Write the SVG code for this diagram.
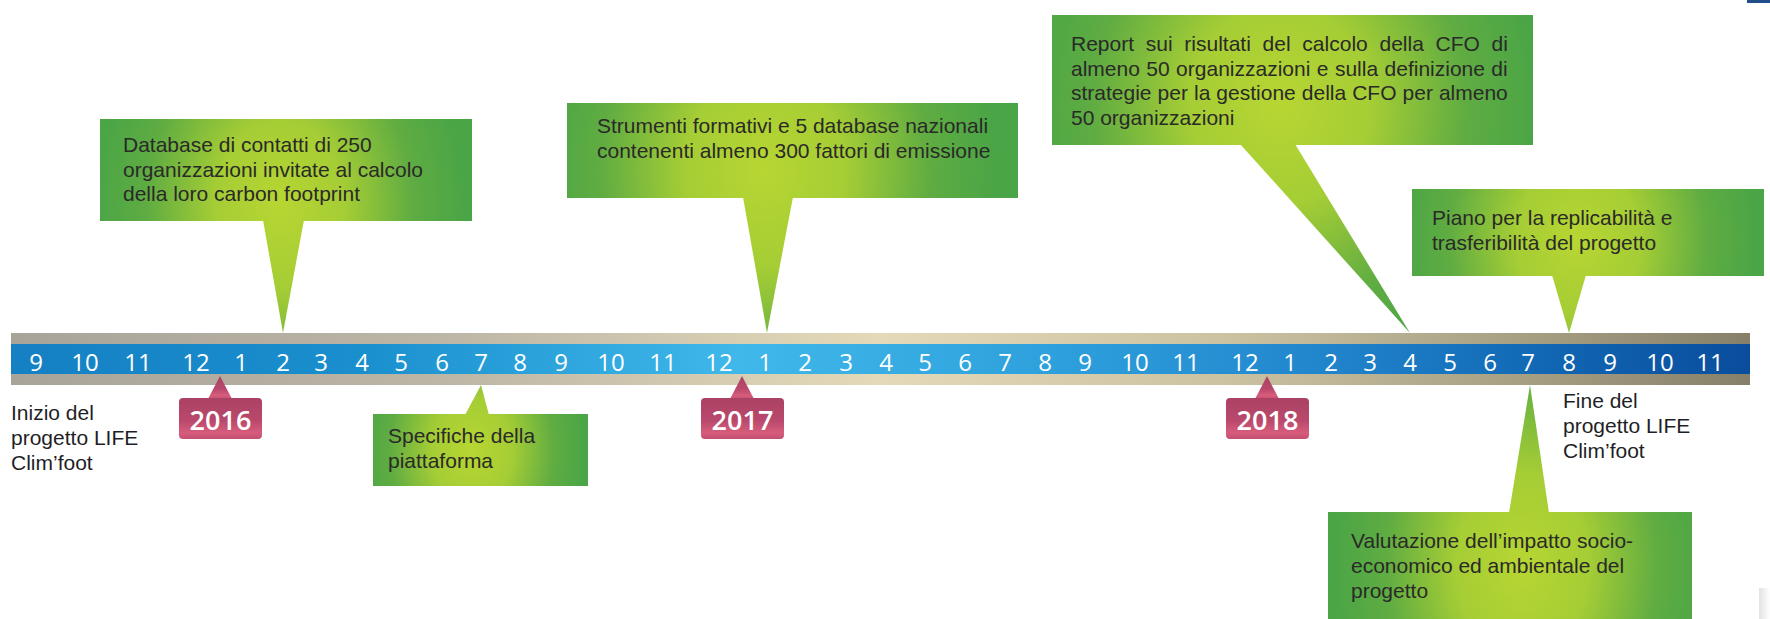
<svg xmlns="http://www.w3.org/2000/svg" width="1770" height="619" viewBox="0 0 1770 619">
<style>
  .num { font-family: "Open Sans", "DejaVu Sans", sans-serif; font-size: 24px; fill: #ffffff; text-anchor: middle; }
  .year { font-family: "Open Sans", "DejaVu Sans", sans-serif; font-size: 27px; font-weight: 600; fill: #ffffff; text-anchor: middle; }
  .txt { font-family: "Liberation Sans", Arial, sans-serif; font-size: 21px; fill: #2a2a28; }
  .lbl { font-family: "Liberation Sans", Arial, sans-serif; font-size: 21px; fill: #1f1f26; }
  .tag { fill: url(#tagGrad); }
</style>
<defs>
  <linearGradient id="grayBar" x1="0" y1="0" x2="1" y2="0">
    <stop offset="0" stop-color="#a9a49a"/>
    <stop offset="0.25" stop-color="#bcb6a6"/>
    <stop offset="0.5" stop-color="#e4dab9"/>
    <stop offset="0.7" stop-color="#cbc2a2"/>
    <stop offset="0.88" stop-color="#a49d81"/>
    <stop offset="1" stop-color="#86806a"/>
  </linearGradient>
  <linearGradient id="blueBar" x1="0" y1="0" x2="1" y2="0">
    <stop offset="0" stop-color="#1580c3"/>
    <stop offset="0.2" stop-color="#1a8fce"/>
    <stop offset="0.42" stop-color="#40b8ea"/>
    <stop offset="0.6" stop-color="#2ea0dc"/>
    <stop offset="0.75" stop-color="#2286cd"/>
    <stop offset="0.9" stop-color="#0f63b0"/>
    <stop offset="1" stop-color="#0a4d9d"/>
  </linearGradient>
  <linearGradient id="tagGrad" x1="0" y1="0" x2="0" y2="1">
    <stop offset="0" stop-color="#ab4263"/>
    <stop offset="0.55" stop-color="#b9496c"/>
    <stop offset="0.85" stop-color="#d75c7b"/>
    <stop offset="1" stop-color="#c24f70"/>
  </linearGradient>
  <radialGradient id="glow" gradientUnits="userSpaceOnUse" cx="0" cy="0" r="1">
    <stop offset="0" stop-color="#b7d632"/>
    <stop offset="0.35" stop-color="#a5cd35"/>
    <stop offset="0.72" stop-color="#5fac42"/>
    <stop offset="1" stop-color="#4aa546"/>
  </radialGradient>
  <radialGradient id="g1" href="#glow" cx="0" cy="0" r="185" gradientTransform="translate(280 205) scale(1 1.3)"/>
  <radialGradient id="g2" href="#glow" cx="0" cy="0" r="230" gradientTransform="translate(765 170) scale(1 1.2)"/>
  <radialGradient id="g3" href="#glow" cx="0" cy="0" r="260" gradientTransform="translate(1280 105) scale(1 1.1)"/>
  <radialGradient id="g4" href="#glow" cx="0" cy="0" r="180" gradientTransform="translate(1578 240) scale(1 1.2)"/>
  <radialGradient id="g5" href="#glow" cx="0" cy="0" r="190" gradientTransform="translate(1522 565) scale(1 1.4)"/>
  <radialGradient id="g6" href="#glow" cx="0" cy="0" r="115" gradientTransform="translate(472 450) scale(1 1.3)"/>
  <linearGradient id="shade" x1="0" y1="0" x2="1" y2="0">
    <stop offset="0" stop-color="#e2e2e2"/>
    <stop offset="1" stop-color="#ffffff"/>
  </linearGradient>
</defs>

<rect x="0" y="0" width="1770" height="619" fill="#ffffff"/>
<rect x="1747" y="0" width="23" height="3" fill="#1f4e8a"/>
<rect x="1759" y="588" width="11" height="31" fill="url(#shade)"/>

<g id="timeline">
  <rect x="11" y="333" width="1739" height="52" fill="url(#grayBar)"/>
  <rect x="11" y="344" width="1739" height="30" fill="url(#blueBar)"/>
  <g id="months">
    <text class="num" x="36" y="371">9</text>
    <text class="num" x="85" y="371">10</text>
    <text class="num" x="138" y="371">11</text>
    <text class="num" x="196" y="371">12</text>
    <text class="num" x="241" y="371">1</text>
    <text class="num" x="283" y="371">2</text>
    <text class="num" x="321" y="371">3</text>
    <text class="num" x="362" y="371">4</text>
    <text class="num" x="401" y="371">5</text>
    <text class="num" x="442" y="371">6</text>
    <text class="num" x="481" y="371">7</text>
    <text class="num" x="520" y="371">8</text>
    <text class="num" x="561" y="371">9</text>
    <text class="num" x="611" y="371">10</text>
    <text class="num" x="663" y="371">11</text>
    <text class="num" x="719" y="371">12</text>
    <text class="num" x="765" y="371">1</text>
    <text class="num" x="805" y="371">2</text>
    <text class="num" x="846" y="371">3</text>
    <text class="num" x="886" y="371">4</text>
    <text class="num" x="925" y="371">5</text>
    <text class="num" x="965" y="371">6</text>
    <text class="num" x="1005" y="371">7</text>
    <text class="num" x="1045" y="371">8</text>
    <text class="num" x="1085" y="371">9</text>
    <text class="num" x="1135" y="371">10</text>
    <text class="num" x="1186" y="371">11</text>
    <text class="num" x="1245" y="371">12</text>
    <text class="num" x="1290" y="371">1</text>
    <text class="num" x="1331" y="371">2</text>
    <text class="num" x="1370" y="371">3</text>
    <text class="num" x="1410" y="371">4</text>
    <text class="num" x="1450" y="371">5</text>
    <text class="num" x="1490" y="371">6</text>
    <text class="num" x="1528" y="371">7</text>
    <text class="num" x="1569" y="371">8</text>
    <text class="num" x="1610" y="371">9</text>
    <text class="num" x="1660" y="371">10</text>
    <text class="num" x="1710" y="371">11</text>
  </g>
</g>

<g id="connectors">
  <polygon points="263,220 304,220 283,333" fill="url(#g1)"/>
  <polygon points="743,197 793,197 767,333" fill="url(#g2)"/>
  <polygon points="1240,144 1295,144 1410,333" fill="url(#g3)"/>
  <polygon points="1552,275 1586,275 1569,333" fill="url(#g4)"/>
  <polygon points="1509,513 1549,513 1530,385" fill="url(#g5)"/>
  <polygon points="465,415 489,415 481,385" fill="url(#g6)"/>
  <polygon class="tag" points="208,399 220,376 232,399"/>
  <polygon class="tag" points="730,399 742,376 754,399"/>
  <polygon class="tag" points="1255,399 1267,376 1279,399"/>
</g>

<g id="year-2016">
  <rect class="tag" x="179" y="398" width="83" height="41" rx="4"/>
  <text class="year" x="220.5" y="430">2016</text>
</g>
<g id="year-2017">
  <rect class="tag" x="701" y="398" width="83" height="41" rx="4"/>
  <text class="year" x="742.5" y="430">2017</text>
</g>
<g id="year-2018">
  <rect class="tag" x="1226" y="398" width="83" height="41" rx="4"/>
  <text class="year" x="1267.5" y="430">2018</text>
</g>

<g id="start-label">
  <text class="lbl" x="11" y="420">Inizio del</text>
  <text class="lbl" x="11" y="445">progetto LIFE</text>
  <text class="lbl" x="11" y="470">Clim’foot</text>
</g>
<g id="end-label">
  <text class="lbl" x="1563" y="408">Fine del</text>
  <text class="lbl" x="1563" y="433">progetto LIFE</text>
  <text class="lbl" x="1563" y="458">Clim’foot</text>
</g>

<g id="callout-database">
  <rect x="100" y="119" width="372" height="102" fill="url(#g1)"/>
  <text class="txt" x="123" y="152">Database di contatti di 250</text>
  <text class="txt" x="123" y="176.5">organizzazioni invitate al calcolo</text>
  <text class="txt" x="123" y="201">della loro carbon footprint</text>
</g>

<g id="callout-strumenti">
  <rect x="567" y="103" width="451" height="95" fill="url(#g2)"/>
  <text class="txt" x="597" y="133">Strumenti formativi e 5 database nazionali</text>
  <text class="txt" x="597" y="158">contenenti almeno 300 fattori di emissione</text>
</g>

<g id="callout-report">
  <rect x="1052" y="15" width="481" height="130" fill="url(#g3)"/>
  <text class="txt" x="1071" y="51" word-spacing="5.9">Report sui risultati del calcolo della CFO di</text>
  <text class="txt" x="1071" y="75.5" word-spacing="0.6">almeno 50 organizzazioni e sulla definizione di</text>
  <text class="txt" x="1071" y="100" word-spacing="0.2">strategie per la gestione della CFO per almeno</text>
  <text class="txt" x="1071" y="124.5">50 organizzazioni</text>
</g>

<g id="callout-piano">
  <rect x="1412" y="189" width="352" height="87" fill="url(#g4)"/>
  <text class="txt" x="1432" y="225">Piano per la replicabilità e</text>
  <text class="txt" x="1432" y="250">trasferibilità del progetto</text>
</g>

<g id="callout-valutazione">
  <rect x="1328" y="512" width="364" height="107" fill="url(#g5)"/>
  <text class="txt" x="1351" y="548">Valutazione dell’impatto socio-</text>
  <text class="txt" x="1351" y="573">economico ed ambientale del</text>
  <text class="txt" x="1351" y="598">progetto</text>
</g>

<g id="callout-specifiche">
  <rect x="373" y="414" width="215" height="72" fill="url(#g6)"/>
  <text class="txt" x="388" y="443">Specifiche della</text>
  <text class="txt" x="388" y="468">piattaforma</text>
</g>
</svg>
